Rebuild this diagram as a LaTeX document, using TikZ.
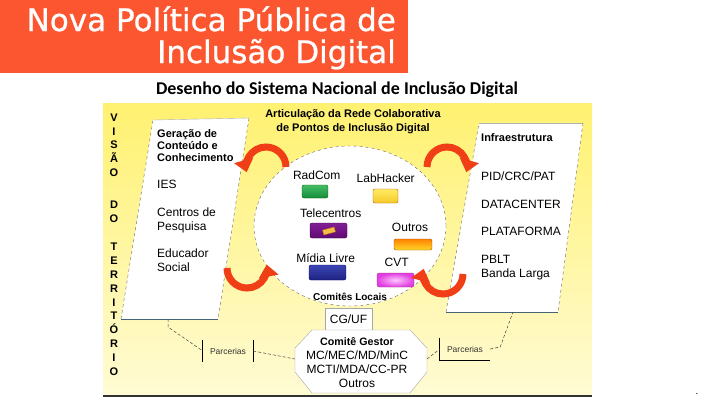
\documentclass[tikz,border=0pt]{standalone}
\usepackage{fontspec}
\setmainfont{Liberation Sans}
\newfontfamily\titlefont[FakeBold=0.8]{DejaVu Sans}
\newfontfamily\subtitlefont{Carlito}
\usetikzlibrary{arrows.meta,shapes.geometric}

\definecolor{titleorange}{RGB}{252,86,48}
\definecolor{paneltop}{RGB}{255,241,112}
\definecolor{panelbot}{RGB}{255,251,212}
\definecolor{turnred}{RGB}{240,62,22}
\definecolor{edgeblue}{RGB}{70,100,120}

\tikzset{
  txt/.style={inner sep=0pt, font=\fontsize{12}{14}\selectfont},
  boldtxt/.style={inner sep=0pt, font=\bfseries\fontsize{11}{12.4}\selectfont},
  chip/.style={rounded corners=2pt, inner sep=0pt, line width=0.4pt},
  turn/.style={draw=turnred, line width=7pt, -{Triangle[width=19pt,length=12pt]}},
  link/.style={draw=black!75, densely dashed, line width=0.5pt},
  bar/.style={draw=black, line width=0.8pt},
  partner/.style={inner sep=0pt, minimum width=50pt, minimum height=22pt, font=\fontsize{8.5}{10}\selectfont, text=black!80}
}

\begin{document}
\begin{tikzpicture}[x=1pt,y=-1pt]
\useasboundingbox (0,0) rectangle (720,405);

% title
\fill[titleorange] (0,0) rectangle (408,73);
\node[anchor=base east, inner sep=0pt, text=white, font=\titlefont\fontsize{31}{32}\selectfont] (title1) at (396,31) {Nova Política Pública de};
\node[anchor=base east, inner sep=0pt, text=white, font=\titlefont\fontsize{31}{32}\selectfont] (title2) at (396,63) {Inclusão Digital};
\node[anchor=base, inner sep=0pt, font=\subtitlefont\bfseries\fontsize{18}{20}\selectfont] (subtitle) at (337,94.5) {Desenho do Sistema Nacional de Inclusão Digital};

% yellow panel
\shade[top color=paneltop, bottom color=panelbot] (103,103) rectangle (592,395);

% base anchor of a multi-line node = last line
\node[anchor=base, inner sep=0pt, align=center, font=\bfseries\fontsize{11}{13.8}\selectfont] (territorio) at (114,375)
  {V\\I\\S\\Ã\\O\\[18pt]D\\O\\[15pt]T\\E\\R\\R\\I\\T\\Ó\\R\\I\\O};

% left column
\fill[white] (153,120) -- (249,118) -- (218,319) -- (121,319) -- cycle;
\draw[gray!60, line width=0.4pt] (153,120) -- (249,118);
\draw[black!60, dashed, line width=0.4pt] (249,118) -- (218,319) (121,319) -- (153,120);
\draw[edgeblue, line width=0.6pt] (121,319) -- (218,319);
\coordinate (lfoot) at (168,319);

\node[boldtxt, anchor=base west, align=left] (geracao) at (157,161.8) {Geração de\\Conteúdo e\\Conhecimento};
\node[txt, anchor=base west] (ies) at (157,188.5) {IES};
\node[txt, anchor=base west, align=left] (centros) at (157,230) {Centros de\\Pesquisa};
\node[txt, anchor=base west, align=left] (educador) at (157,271.5) {Educador\\Social};

% right column
\fill[white] (479,123) -- (583,123) -- (558,312) -- (446,312) -- cycle;
\draw[gray!60, line width=0.4pt] (479,123) -- (583,123);
\draw[black!60, dashed, line width=0.4pt] (583,123) -- (558,312) (446,312) -- (479,123);
\draw[edgeblue, line width=0.6pt] (446,312) -- (558,312);
\coordinate (rfoot) at (513,312);

\node[boldtxt, anchor=base west] (infra) at (481,141) {Infraestrutura};
\node[txt, anchor=base west] (pid) at (481,180) {PID/CRC/PAT};
\node[txt, anchor=base west] (datacenter) at (481,208.5) {DATACENTER};
\node[txt, anchor=base west] (plataforma) at (481,235) {PLATAFORMA};
\node[txt, anchor=base west, align=left] (pblt) at (481,277.5) {PBLT\\Banda Larga};

% centre
\node[boldtxt, anchor=base, align=center, font=\bfseries\fontsize{11}{13.5}\selectfont] (articulacao) at (353,131) {Articulação da Rede Colaborativa\\de Pontos de Inclusão Digital};
\node[draw=black!60, dashed, line width=0.4pt, fill=white, ellipse, minimum width=192pt, minimum height=160pt] (rede) at (350,226) {};

\node[txt, anchor=base] (radcom) at (316.7,179) {RadCom};
\node[chip, draw=green!40!black, top color={rgb,255:red,70;green,190;blue,100}, bottom color={rgb,255:red,20;green,140;blue,60}, minimum width=26pt, minimum height=13pt] (radcombox) at (315,191.5) {};
\node[txt, anchor=base] (labhacker) at (385.7,182) {LabHacker};
\node[chip, draw=orange!70!black, top color={rgb,255:red,255;green,235;blue,100}, bottom color={rgb,255:red,245;green,200;blue,40}, minimum width=25pt, minimum height=14pt] (labbox) at (385.5,196) {};
\node[txt, anchor=base] (telecentros) at (330.7,217.5) {Telecentros};
\node[chip, draw=violet!50!black, top color={rgb,255:red,130;green,30;blue,150}, bottom color={rgb,255:red,95;green,10;blue,115}, minimum width=37pt, minimum height=15pt] (telebox) at (328.5,230.5) {};
\node[rotate=15, minimum width=12pt, minimum height=5pt, inner sep=0pt, fill={rgb,255:red,240;green,190;blue,70}, draw=orange!80!black, line width=0.3pt] (telechip) at (329,231) {};
\node[txt, anchor=base] (outros) at (410,231) {Outros};
\node[chip, draw=orange!60!black, top color={rgb,255:red,255;green,130;blue,0}, bottom color={rgb,255:red,255;green,215;blue,40}, minimum width=38pt, minimum height=11pt] (outrosbox) at (413,244.5) {};
\node[txt, anchor=base] (midia) at (325.7,262.5) {Mídia Livre};
\node[chip, draw=blue!40!black, top color={rgb,255:red,60;green,70;blue,180}, bottom color={rgb,255:red,30;green,35;blue,130}, minimum width=37pt, minimum height=15pt] (midiabox) at (327.5,272.5) {};
\node[txt, anchor=base] (cvt) at (396.7,266) {CVT};
\node[chip, draw=magenta!60!black, inner color={rgb,255:red,255;green,200;blue,255}, outer color={rgb,255:red,225;green,60;blue,225}, minimum width=37pt, minimum height=14pt] (cvtbox) at (395.5,280) {};
\node[inner sep=0pt, anchor=base, font=\bfseries\fontsize{10}{12}\selectfont] (comites) at (350,300.5) {Comitês Locais};

% red turns
\draw[turn] (286,167) arc[start angle=0, end angle=-195, radius=20];
\draw[turn] (427,167) arc[start angle=180, end angle=375, radius=20];
\draw[turn] (227,268) arc[start angle=180, end angle=-10, radius=20];
\draw[turn] (463,274) arc[start angle=0, end angle=195, radius=20];

% management
\node[draw=gray!70, line width=0.4pt, fill=white, minimum width=47pt, minimum height=22pt, inner sep=0pt, font=\fontsize{12}{14}\selectfont] (cguf) at (348.5,319) {CG/UF};
\filldraw[fill=white, draw=gray!70, line width=0.4pt] (312,330) -- (410,330) -- (427,348) -- (427,372) -- (410,393) -- (312,393) -- (295,372) -- (295,348) -- cycle;
\node[anchor=base, inner sep=0pt, align=center, font=\fontsize{12}{13.8}\selectfont] (gestor) at (357,387)
  {{\bfseries\fontsize{10.7}{13.8}\selectfont Comitê Gestor}\\MC/MEC/MD/MinC\\MCTI/MDA/CC-PR\\Outros};
\coordinate (gestorw) at (295,359);
\coordinate (gestore) at (427,359);

\draw[line width=2.5pt, black!80] (103,396) -- (592,396);

% partners
\node[partner] (lparc) at (228,351) {Parcerias};
\draw[bar] (lparc.north west) -- (lparc.south west) (lparc.north east) -- (lparc.south east);
\node[partner] (rparc) at (465,349) {Parcerias};
\draw[bar] (rparc.north west) -- (rparc.south west) -- (rparc.south east);

\draw[link] (lfoot) -- ++(0,8) -- (lparc.west);
\draw[link] (lparc.east) -- (gestorw);
\draw[link] (gestore) -- (rparc.west);
\draw[link] (rparc.east) -- ++(10,-2) -- (rfoot);

\node[anchor=base, inner sep=0pt] (dot) at (697,394) {.};
\end{tikzpicture}
\end{document}
